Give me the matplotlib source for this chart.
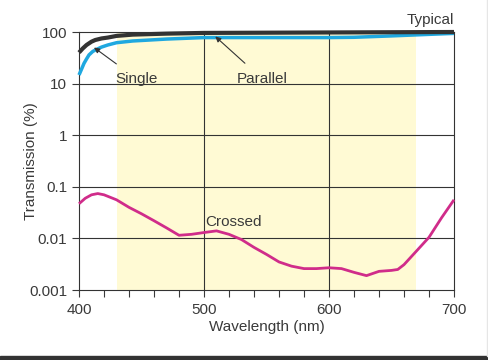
import numpy as np
import matplotlib.pyplot as plt
from matplotlib.patches import Rectangle

plt.rcParams.update({
    "font.family": ["Liberation Sans", "DejaVu Sans"],
    "font.size": 11,
    "text.color": "#3a3a3a",
    "axes.labelcolor": "#3a3a3a",
    "xtick.color": "#3a3a3a",
    "ytick.color": "#3a3a3a",
})

# transmission curves (wavelength nm, transmission %)
typical_nm = [400, 403, 406, 410, 413, 418, 423, 430, 443, 470, 500, 550, 600, 650, 700]
typical_pct = [40, 48, 56, 65, 70, 75, 78, 84, 89, 93, 96, 97, 98, 99, 100]

single_nm = [400, 402, 404, 406, 408, 411, 414, 418, 423, 430, 443, 470, 500, 550, 600, 620, 650, 680, 700]
single_pct = [14.7, 19, 24.7, 30, 36, 42, 46, 51, 56, 62, 67, 73, 78, 78, 78, 79, 84, 90, 94]

crossed_nm = [400, 405, 410, 415, 420, 430, 440, 450, 460, 470, 480, 490, 500, 510, 520,
              530, 540, 550, 560, 570, 580, 590, 600, 610, 620, 630, 640, 650, 655, 660,
              670, 680, 690, 700]
crossed_pct = [0.047, 0.06, 0.07, 0.074, 0.07, 0.056, 0.040, 0.030, 0.022, 0.016, 0.0115,
               0.012, 0.013, 0.014, 0.012, 0.0095, 0.0067, 0.0049, 0.0035, 0.0029, 0.0026,
               0.0026, 0.0027, 0.0026, 0.0022, 0.0019, 0.0023, 0.0024, 0.0025, 0.0031,
               0.0057, 0.0105, 0.025, 0.056]

band = (430, 670)
x_major = [400, 500, 600, 700]
y_major = [100, 10, 1, 0.1, 0.01, 0.001]
y_labels = ["100", "10", "1", "0.1", "0.01", "0.001"]

fig = plt.figure(figsize=(4.89, 3.6), dpi=100)
ax = fig.add_axes([0.1616, 0.1944, 0.7668, 0.7167])

ax.axvspan(*band, color="#fffad4", zorder=0, lw=0)
ax.set_yscale("log")
ax.set_xlim(400, 700)
ax.set_ylim(0.001, 100)

for v in x_major[1:-1]:
    ax.axvline(v, color="#333333", lw=0.8, zorder=1)
for v in y_major[1:-1]:
    ax.axhline(v, color="#333333", lw=0.8, zorder=1)

ax.plot(typical_nm, typical_pct, color="#333333", lw=3, zorder=4, clip_on=False,
        solid_capstyle="butt")
ax.plot(single_nm, single_pct, color="#1fa8e0", lw=2.5, zorder=3, clip_on=False,
        solid_capstyle="butt")
ax.plot(crossed_nm, crossed_pct, color="#d02c8a", lw=2, zorder=3, clip_on=False,
        solid_capstyle="butt")

ax.set_xticks(x_major)
ax.set_xticks(np.arange(400, 701, 20), minor=True)
ax.set_yticks(y_major)
ax.set_yticklabels(y_labels)
ax.yaxis.set_minor_locator(plt.NullLocator())
ax.tick_params(axis="both", which="both", direction="out", length=5, width=0.8,
               colors="#3a3a3a", labelsize=11)
ax.tick_params(axis="x", pad=4)

for s in ax.spines.values():
    s.set_color("#333333")
    s.set_linewidth(0.8)

ax.set_xlabel("Wavelength (nm)", fontsize=11)
ax.set_ylabel("Transmission (%)", fontsize=11)
ax.xaxis.set_label_coords(0.5, -0.115)
ax.yaxis.set_label_coords(-0.11, 0.5)

ax.text(700, 125, "Typical", ha="right", va="bottom", fontsize=11)
ax.annotate("Single", xy=(412, 50), xytext=(429, 12.5), ha="left", va="center",
            fontsize=11,
            arrowprops=dict(arrowstyle="-|>", color="#333333", lw=0.8,
                            shrinkA=6, shrinkB=0, mutation_scale=8))
ax.annotate("Parallel", xy=(509, 82), xytext=(526, 12.5), ha="left", va="center",
            fontsize=11,
            arrowprops=dict(arrowstyle="-|>", color="#333333", lw=0.8,
                            shrinkA=6, shrinkB=0, mutation_scale=8))
ax.text(501, 0.0155, "Crossed", ha="left", va="bottom", fontsize=11)

# border of the original image: dark strip at the bottom, light line on the right
fig.patches.append(Rectangle((0, 0), 1, 4 / 360, transform=fig.transFigure,
                             color="#333333", zorder=10))
fig.patches.append(Rectangle((1 - 2 / 489, 4 / 360), 2 / 489, 1, transform=fig.transFigure,
                             color="#e6e6e6", zorder=10))

fig.savefig("out.png", dpi=100)
